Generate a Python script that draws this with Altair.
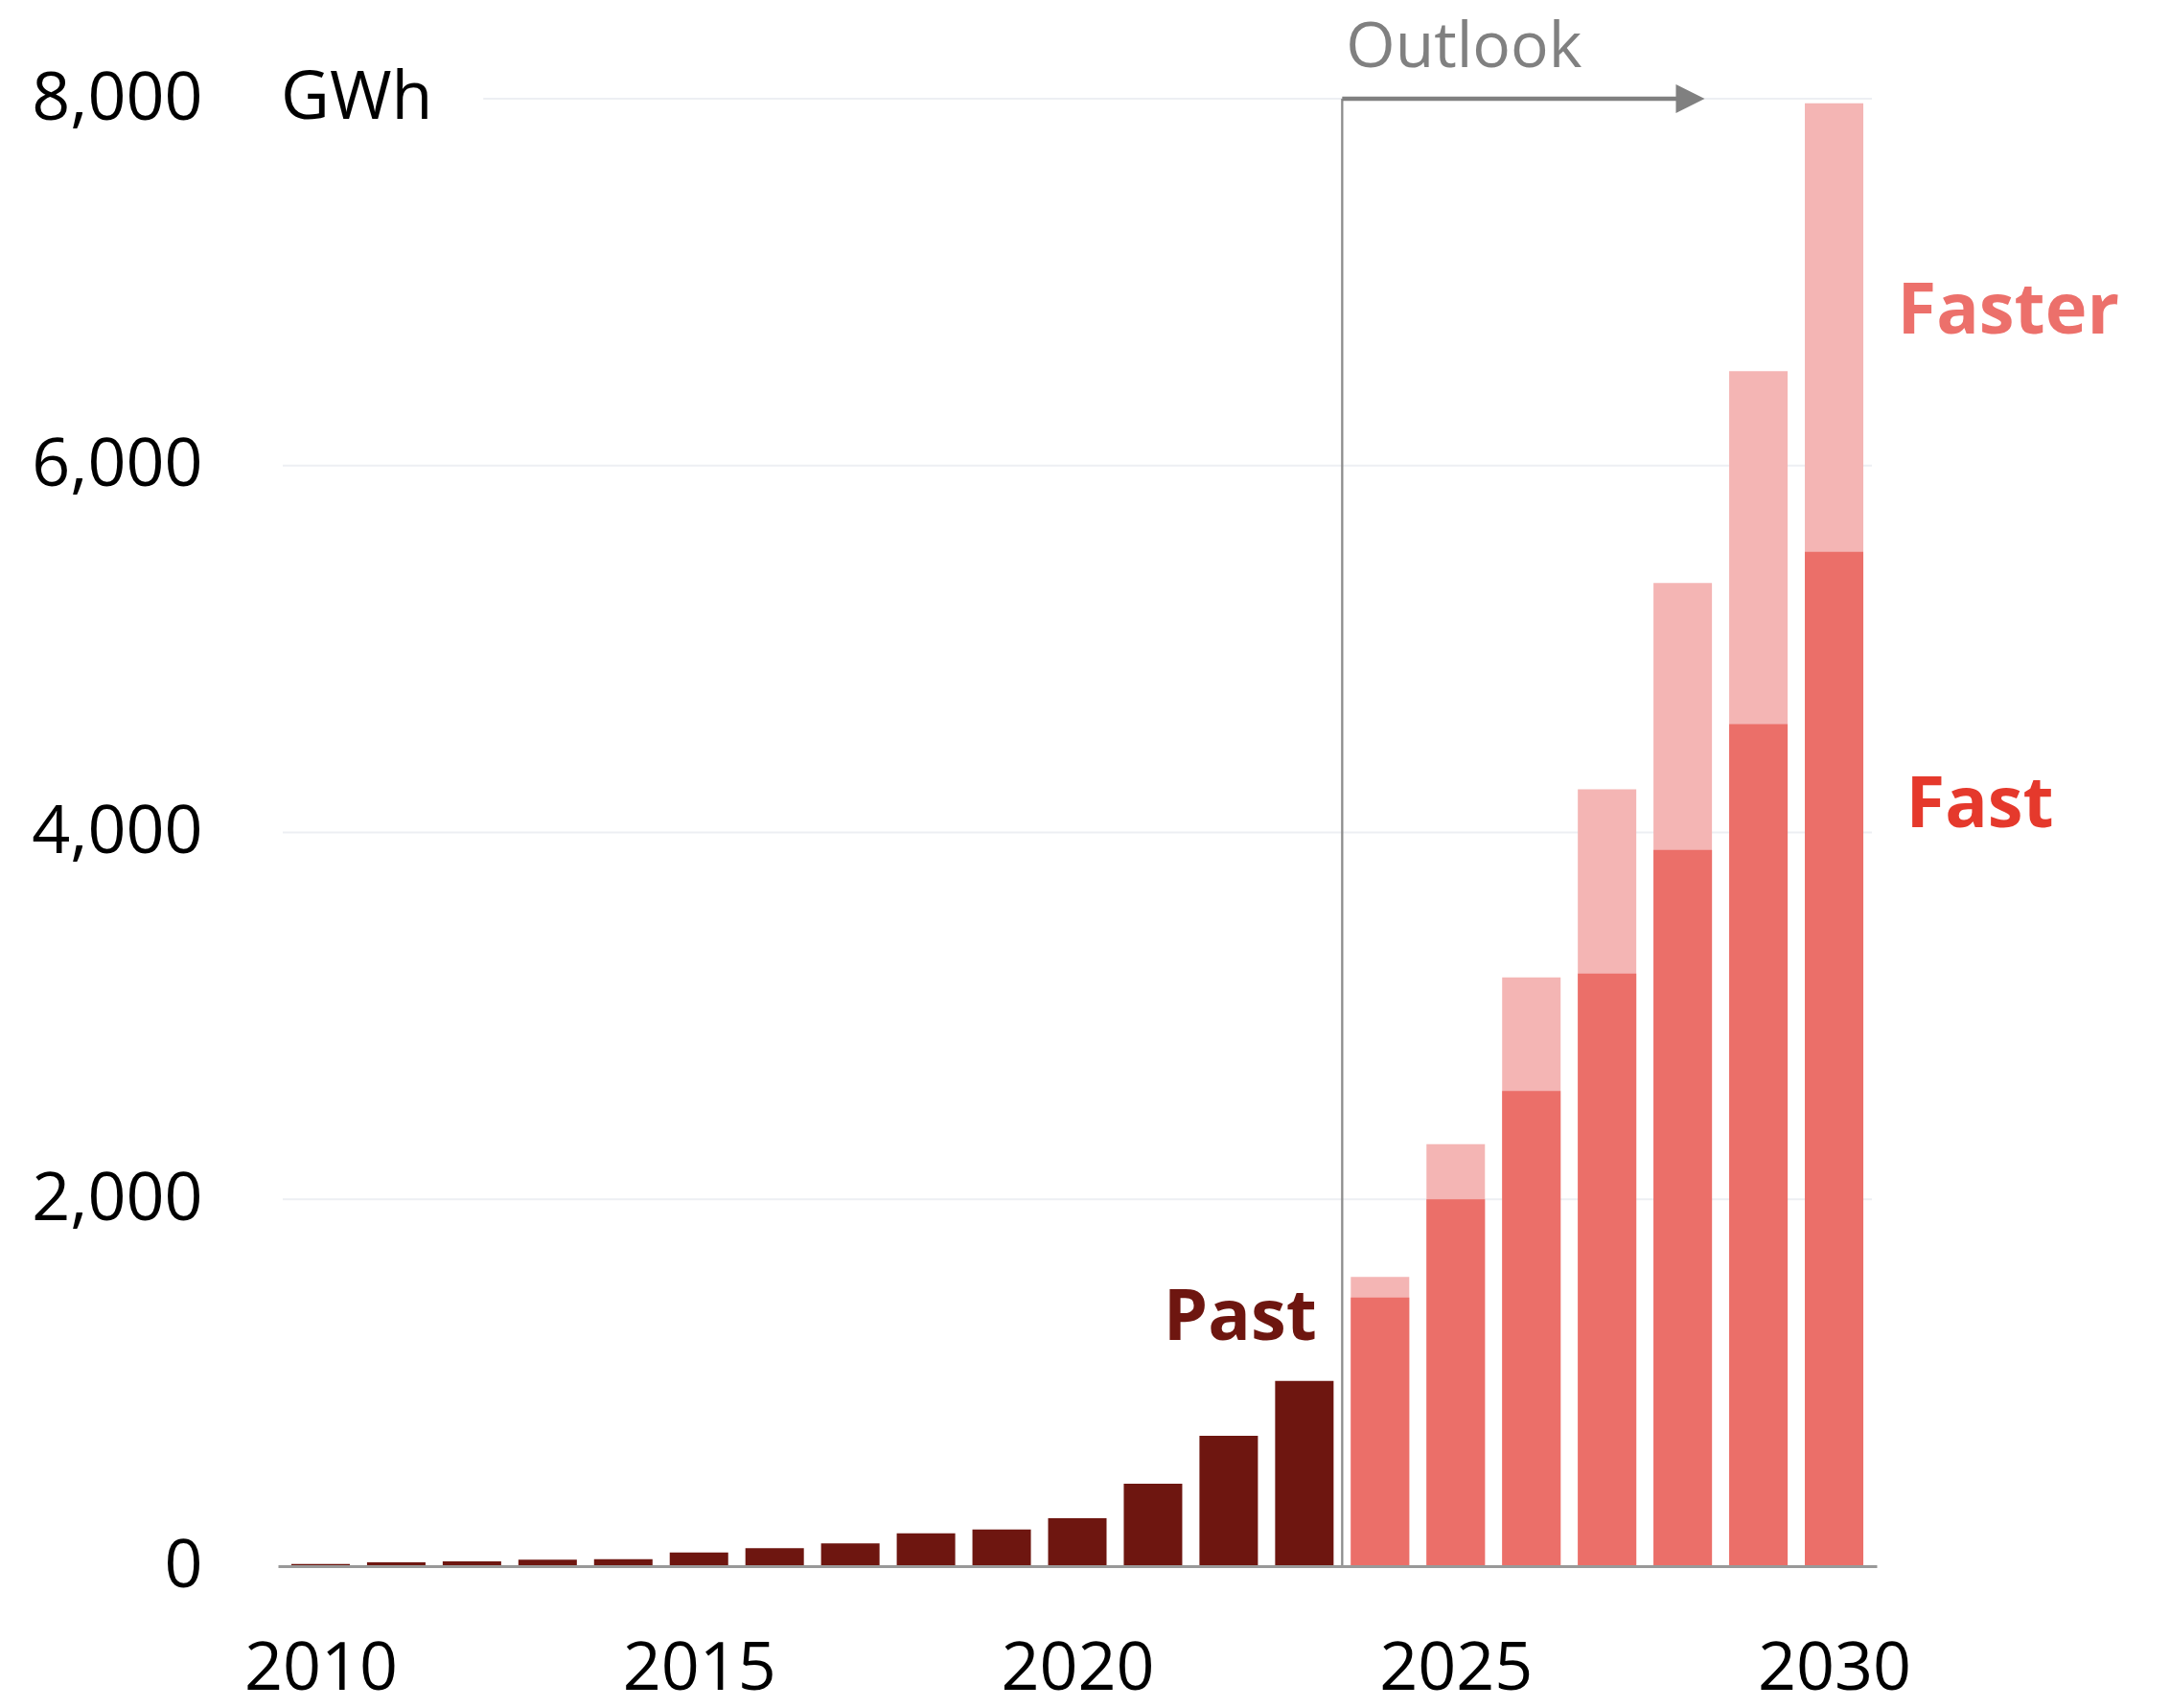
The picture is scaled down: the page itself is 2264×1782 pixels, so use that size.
import altair as alt
import pandas as pd

# Battery demand, GWh: historical years and two outlook cases
past_years = list(range(2010, 2024))
past_gwh = [12, 21, 26, 35, 38, 75, 98, 124, 179, 200, 261, 449, 710, 1010]

outlook_years = list(range(2024, 2031))
fast_gwh = [1465, 2000, 2590, 3230, 3905, 4590, 5530]
faster_gwh = [1577, 2300, 3210, 4235, 5360, 6515, 7975]

# Axis ticks and horizontal guide lines
x_ticks = [2010, 2015, 2020, 2025, 2030]
y_ticks = [0, 2000, 4000, 6000, 8000]
grid_values = [2000, 4000, 6000, 8000]
grid_from = [2009.5, 2009.5, 2009.5, 2012.15]

# Outlook marker: divider between history and projections, arrow end
outlook_start = 2023.5
arrow_end = 2028.1

# Series labels
label_text = ["Past", "Fast", "Faster"]
label_year = [2023, 2030, 2030]
label_gwh = [1231, 4027, 6722]

FONT = "Open Sans"
DARK = "#6E1610"
FAST = "#EB6F69"
FASTER = "#F4B5B4"
GREY = "#808080"

past_df = pd.DataFrame({"year": past_years, "gwh": past_gwh})
outlook_df = pd.DataFrame({"year": outlook_years, "fast": fast_gwh, "faster": faster_gwh})
grid_df = pd.DataFrame({"value": grid_values, "start": grid_from, "end": [2030.5] * len(grid_values)})

x_scale = alt.Scale(domain=[2009.5, 2030.5], nice=False, zero=False)
y_scale = alt.Scale(domain=[0, 8000], nice=False)

x_axis = alt.Axis(
    values=x_ticks, format="d", title="", grid=False, ticks=False,
    labelFont=FONT, labelFontSize=70, labelColor="#000000",
    labelBaseline="alphabetic", labelPadding=128, labelFlush=False,
    labelOverlap=False, domainColor="#999999", domainWidth=3, zindex=1,
)
y_axis = alt.Axis(
    values=y_ticks, format=",.0f", title="", grid=False, ticks=False, domain=False,
    labelFont=FONT, labelFontSize=70, labelColor="#000000", labelPadding=79,
    labelOverlap=False,
)


def xq(field):
    return alt.X(field, type="quantitative", scale=x_scale, axis=x_axis)


def yq(field):
    return alt.Y(field, type="quantitative", scale=y_scale, axis=y_axis)


grid = alt.Chart(grid_df).mark_rule(color="#EDEFF3", strokeWidth=2).encode(
    x=xq("start"), x2="end", y=yq("value")
)

faster_bars = alt.Chart(outlook_df).mark_bar(size=61, color=FASTER).encode(
    x=xq("year"), y=yq("faster")
)
fast_bars = alt.Chart(outlook_df).mark_bar(size=61, color=FAST).encode(
    x=xq("year"), y=yq("fast")
)
past_bars = alt.Chart(past_df).mark_bar(size=61, color=DARK).encode(
    x=xq("year"), y=yq("gwh")
)

marker_df = pd.DataFrame({"start": [outlook_start], "end": [arrow_end], "top": [8000], "bottom": [0]})

divider = alt.Chart(marker_df).mark_rule(color="#8C8C8C", strokeWidth=2.3).encode(
    x=xq("start"), y=yq("bottom"), y2="top"
)
arrow_line = alt.Chart(marker_df).mark_rule(color=GREY, strokeWidth=4.5).encode(
    x=xq("start"), x2="end", y=yq("top")
)
arrow_head = alt.Chart(marker_df).mark_point(
    shape="M-1,-1L1,0L-1,1Z", filled=True, size=900, color=GREY, opacity=1
).encode(x=xq("end"), y=yq("top"))

outlook_text = alt.Chart(marker_df).mark_text(
    text="Outlook", font=FONT, fontSize=66, color=GREY, align="left",
    baseline="alphabetic", dx=4, dy=-33,
).encode(x=xq("start"), y=yq("top"))

unit_df = pd.DataFrame({"year": [2009.5], "value": [8000]})
unit_text = alt.Chart(unit_df).mark_text(
    text="GWh", font=FONT, fontSize=70, color="#000000", align="left",
    baseline="middle", dx=-2,
).encode(x=xq("year"), y=yq("value"))

labels_df = pd.DataFrame({"label": label_text, "year": label_year, "gwh": label_gwh})


def series_label(name, color, align, dx):
    return alt.Chart(labels_df).transform_filter(
        alt.datum.label == name
    ).mark_text(
        font=FONT, fontSize=74, fontWeight="bold", color=color,
        align=align, baseline="alphabetic", dx=dx,
    ).encode(x=xq("year"), y=yq("gwh"), text="label:N")


past_label = series_label("Past", DARK, "right", 13)
fast_label = series_label("Fast", "#E5392C", "left", 75)
faster_label = series_label("Faster", "#EC706B", "left", 66)

chart = alt.layer(
    grid, faster_bars, fast_bars, past_bars, divider, arrow_line, arrow_head,
    outlook_text, unit_text, past_label, fast_label, faster_label,
).properties(
    width=1668,
    height=1531,
    padding={"left": 290, "top": 103, "right": 306, "bottom": 148},
    autosize=alt.AutoSizeParams(type="none"),
    background="#FFFFFF",
).configure_view(stroke=None)

chart.save("out.html", embed_options={"renderer": "svg", "actions": False})
